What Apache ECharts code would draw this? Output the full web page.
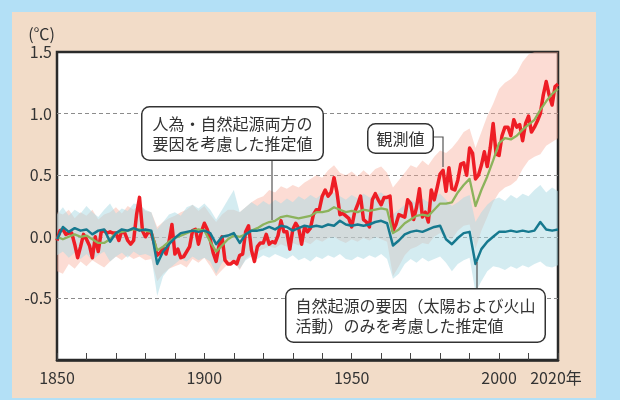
<!DOCTYPE html>
<html>
<head>
<meta charset="utf-8">
<script src="https://cdn.jsdelivr.net/npm/echarts@6/dist/echarts.min.js"></script>
<style>
html, body { margin: 0; padding: 0; background: #b3e0f6; }
#panel { position: absolute; left: 12px; top: 12px; width: 584px; height: 386px; background: #f2dcc8; }
#main { position: absolute; left: 0; top: 0; width: 620px; height: 400px; }
</style>
</head>
<body>
<div id="panel"></div>
<div id="main"></div>
<script>
// tick labels
var xLabelYears = [1850, 1900, 1950, 2000, 2020];

// observed annual anomaly (1850-2020)
var obsStart = 1850;
var obsTemp = [
    -0.03, 0.05, 0.06, 0.02, 0.03, 0.03, -0.06, -0.17, -0.08, 0.02,
    -0.02, -0.07, -0.17, 0.00, -0.12, 0.04, 0.05, 0.03, 0.04, 0.03,
    0.03, -0.03, 0.05, 0.03, -0.03, -0.06, -0.03, 0.18, 0.32, 0.05,
    0.00, 0.04, 0.03, -0.05, -0.15, -0.13, -0.09, -0.14, -0.04, 0.10,
    -0.14, -0.10, -0.17, -0.16, -0.12, -0.08, 0.05, 0.06, -0.06, 0.04,
    0.11, 0.06, -0.02, -0.13, -0.20, -0.07, 0.00, -0.19, -0.22, -0.22,
    -0.20, -0.22, -0.15, -0.14, 0.04, 0.09, -0.11, -0.20, -0.08, -0.05,
    -0.05, 0.02, -0.06, -0.04, -0.05, 0.01, 0.13, 0.04, 0.04, -0.10,
    0.06, 0.11, 0.07, -0.06, 0.08, 0.04, 0.07, 0.18, 0.22, 0.22,
    0.33, 0.38, 0.33, 0.36, 0.48, 0.36, 0.18, 0.19, 0.17, 0.15,
    0.08, 0.20, 0.26, 0.33, 0.14, 0.12, 0.08, 0.30, 0.35, 0.30,
    0.26, 0.32, 0.32, 0.33, 0.05, 0.10, 0.18, 0.17, 0.16, 0.30,
    0.27, 0.14, 0.24, 0.39, 0.16, 0.20, 0.12, 0.38, 0.30, 0.40,
    0.51, 0.54, 0.37, 0.56, 0.39, 0.38, 0.46, 0.59, 0.60, 0.50,
    0.72, 0.68, 0.47, 0.50, 0.58, 0.69, 0.57, 0.72, 0.92, 0.67,
    0.66, 0.82, 0.89, 0.89, 0.82, 0.95, 0.89, 0.91, 0.78, 0.92,
    0.98, 0.85, 0.89, 0.94, 1.00, 1.15, 1.26, 1.15, 1.07, 1.22,
    1.24
];

// model estimates, every 2 years 1850-2020
var modelYears = [];
for (var yr = 1850; yr <= 2020; yr += 2) modelYears.push(yr);

// human + natural forcing (mean)
var bothMean = [
    0.00, -0.02, 0.00, 0.02, 0.00, 0.01, -0.02, -0.05, -0.05, -0.02,
    0.03, 0.04, 0.05, 0.06, 0.06, 0.05, 0.04, -0.11, -0.08, -0.04,
    -0.01, 0.01, 0.03, 0.05, 0.06, 0.05, -0.04, -0.12, -0.07, -0.02,
    0.01, 0.00, 0.02, 0.05, 0.07, 0.10, 0.12, 0.13, 0.16, 0.17,
    0.16, 0.15, 0.16, 0.17, 0.20, 0.20, 0.21, 0.24, 0.22, 0.20,
    0.21, 0.20, 0.22, 0.21, 0.22, 0.23, 0.22, 0.03, 0.06, 0.11,
    0.14, 0.17, 0.18, 0.17, 0.22, 0.27, 0.27, 0.28, 0.36, 0.42,
    0.47, 0.25, 0.38, 0.49, 0.62, 0.76, 0.80, 0.79, 0.82, 0.87,
    0.91, 0.95, 1.03, 1.10, 1.16, 1.20
];
var bothLow = [
    -0.28, -0.30, -0.22, -0.26, -0.20, -0.24, -0.19, -0.22, -0.25, -0.20,
    -0.16, -0.19, -0.15, -0.18, -0.16, -0.19, -0.18, -0.36, -0.30, -0.26,
    -0.24, -0.22, -0.25, -0.18, -0.21, -0.17, -0.24, -0.32, -0.27, -0.22,
    -0.20, -0.27, -0.18, -0.14, -0.12, -0.10, -0.08, -0.09, -0.06, -0.08,
    -0.05, -0.07, -0.04, -0.06, -0.02, -0.04, -0.01, 0.00, -0.03, -0.05,
    -0.02, -0.04, -0.01, -0.03, 0.00, -0.02, -0.04, -0.32, -0.24, -0.15,
    -0.10, -0.08, -0.05, -0.06, 0.00, 0.03, 0.00, -0.02, 0.05, 0.09,
    0.10, -0.10, 0.05, 0.16, 0.28, 0.36, 0.40, 0.42, 0.46, 0.55,
    0.62, 0.65, 0.67, 0.74, 0.77, 0.80
];
var bothHigh = [
    0.20, 0.18, 0.22, 0.15, 0.20, 0.17, 0.22, 0.14, 0.18, 0.20,
    0.24, 0.19, 0.25, 0.22, 0.26, 0.21, 0.20, 0.08, 0.12, 0.15,
    0.17, 0.20, 0.22, 0.26, 0.21, 0.25, 0.18, 0.12, 0.18, 0.22,
    0.22, 0.20, 0.24, 0.28, 0.31, 0.33, 0.38, 0.36, 0.41, 0.39,
    0.42, 0.40, 0.44, 0.47, 0.50, 0.48, 0.54, 0.58, 0.52, 0.50,
    0.53, 0.49, 0.54, 0.50, 0.55, 0.57, 0.52, 0.40, 0.46, 0.52,
    0.58, 0.56, 0.62, 0.58, 0.65, 0.70, 0.68, 0.72, 0.78, 0.85,
    0.88, 0.72, 0.85, 0.98, 1.08, 1.20, 1.25, 1.28, 1.33, 1.42,
    1.48, 1.50, 1.55, 1.60, 1.62, 1.65
];

// natural forcing only (mean)
var natMean = [
    -0.02, 0.08, 0.04, 0.07, 0.05, 0.06, 0.02, 0.05, 0.06, -0.04,
    0.03, 0.06, 0.05, 0.07, 0.05, 0.06, 0.05, -0.22, -0.12, -0.06,
    -0.01, 0.03, 0.04, 0.05, 0.04, 0.05, 0.03, -0.06, 0.00, 0.01,
    0.03, -0.05, 0.02, 0.05, 0.05, 0.06, 0.08, 0.06, 0.09, 0.08,
    0.05, 0.07, 0.09, 0.08, 0.09, 0.08, 0.10, 0.09, 0.13, 0.10,
    0.09, 0.10, 0.09, 0.10, 0.12, 0.13, 0.11, -0.07, -0.03, 0.02,
    0.04, 0.05, 0.04, 0.06, 0.08, 0.09, -0.02, -0.06, -0.01, 0.03,
    0.04, -0.22, -0.10, -0.04, 0.00, 0.04, 0.04, 0.05, 0.04, 0.05,
    0.04, 0.05, 0.12, 0.06, 0.05, 0.06
];
var natLow = [
    -0.15, -0.12, -0.17, -0.13, -0.18, -0.14, -0.19, -0.15, -0.12, -0.20,
    -0.16, -0.13, -0.17, -0.12, -0.15, -0.14, -0.16, -0.48, -0.32, -0.26,
    -0.22, -0.18, -0.20, -0.16, -0.19, -0.17, -0.20, -0.30, -0.21, -0.18,
    -0.20, -0.26, -0.19, -0.16, -0.18, -0.15, -0.17, -0.14, -0.16, -0.18,
    -0.15, -0.19, -0.17, -0.20, -0.16, -0.18, -0.15, -0.17, -0.14, -0.18,
    -0.19, -0.16, -0.18, -0.15, -0.17, -0.14, -0.18, -0.34, -0.30, -0.22,
    -0.18, -0.21, -0.17, -0.20, -0.18, -0.16, -0.21, -0.28, -0.22, -0.19,
    -0.17, -0.45, -0.36, -0.28, -0.24, -0.25, -0.27, -0.24, -0.26, -0.23,
    -0.25, -0.22, -0.20, -0.24, -0.25, -0.23
];
var natHigh = [
    0.18, 0.24, 0.17, 0.22, 0.19, 0.25, 0.20, 0.16, 0.22, 0.27,
    0.19, 0.23, 0.21, 0.27, 0.26, 0.22, 0.20, 0.06, 0.12, 0.18,
    0.20, 0.17, 0.24, 0.26, 0.23, 0.27, 0.22, 0.14, 0.22, 0.30,
    0.38, 0.20, 0.24, 0.28, 0.25, 0.29, 0.26, 0.30, 0.27, 0.31,
    0.28, 0.33, 0.30, 0.34, 0.31, 0.35, 0.32, 0.36, 0.33, 0.30,
    0.34, 0.31, 0.35, 0.32, 0.34, 0.36, 0.32, 0.18, 0.22, 0.26,
    0.30, 0.27, 0.31, 0.28, 0.33, 0.35, 0.30, 0.25, 0.28, 0.32,
    0.34, 0.12, 0.20, 0.26, 0.30, 0.32, 0.29, 0.34, 0.31, 0.35,
    0.33, 0.38, 0.42, 0.36, 0.40, 0.37
];

var FONT = '"Noto Sans CJK JP", "Noto Sans", sans-serif';
var TEXT = '#333';

function pairs(xs, ys) {
    return ys.map(function (v, i) { return [xs[i], v]; });
}
var obsData = obsTemp.map(function (v, i) { return [obsStart + i, v]; });

// shaded range drawn as one polygon through the axis scales
function bandSeries(name, lo, hi, color, z) {
    return {
        name: name,
        type: 'custom',
        z: z,
        silent: true,
        data: modelYears.map(function (y, i) { return [y, lo[i], hi[i]]; }),
        encode: {x: 0, y: [1, 2]},
        renderItem: function (params, api) {
            if (params.dataIndex !== 0) return;
            var pts = [];
            for (var i = 0; i < modelYears.length; i++) pts.push(api.coord([modelYears[i], hi[i]]));
            for (var j = modelYears.length - 1; j >= 0; j--) pts.push(api.coord([modelYears[j], lo[j]]));
            var cs = params.coordSys;
            pts = echarts.graphic.clipPointsByRect(pts, {x: cs.x, y: cs.y, width: cs.width, height: cs.height});
            return {type: 'polygon', shape: {points: pts}, style: {fill: color}};
        }
    };
}

function lineSeries(name, data, color, width, z) {
    return {
        name: name,
        type: 'line',
        data: data,
        symbol: 'none',
        z: z,
        lineStyle: {color: color, width: width, join: 'round'},
        itemStyle: {color: color}
    };
}

var chart = echarts.init(document.getElementById('main'), null, {renderer: 'canvas'});
var option = {
    animation: false,
    textStyle: {fontFamily: FONT},
    grid: {
        left: 57, right: 62, top: 52, bottom: 40,
        show: true,
        backgroundColor: '#fff',
        borderColor: '#2a2a2a',
        borderWidth: 2.5
    },
    xAxis: {
        type: 'value',
        min: 1850,
        max: 2020,
        interval: 10,
        axisLine: {show: true, onZero: false, lineStyle: {color: '#2a2a2a', width: 2.5}},
        axisTick: {show: true, inside: true, length: 7, lineStyle: {color: '#444', width: 1}},
        splitLine: {show: false},
        axisLabel: {
            showMinLabel: true,
            showMaxLabel: true,
            margin: 10,
            fontSize: 16,
            color: TEXT,
            fontFamily: FONT,
            formatter: function (v) {
                if (v === 2020) return '{a|2020年}';
                return xLabelYears.indexOf(v) >= 0 ? String(v) : '';
            },
            rich: {a: {fontSize: 16, color: TEXT, fontFamily: FONT, padding: [0, 4, 0, 0]}}
        }
    },
    yAxis: {
        type: 'value',
        min: -1,
        max: 1.5,
        interval: 0.5,
        name: '(℃)',
        nameLocation: 'end',
        nameGap: 10,
        nameTextStyle: {color: TEXT, fontSize: 16, fontFamily: FONT, align: 'right', padding: [0, 2, 0, 0]},
        axisLine: {show: false},
        axisTick: {show: false},
        axisLabel: {
            margin: 5,
            fontSize: 16,
            color: TEXT,
            fontFamily: FONT,
            formatter: function (v) { return v <= -1 ? '' : v.toFixed(1); }
        },
        splitLine: {
            show: true,
            lineStyle: {
                type: [4, 3],
                width: 1,
                color: ['rgba(0,0,0,0)', '#8c8c8c', '#8c8c8c', '#8c8c8c', '#8c8c8c', 'rgba(0,0,0,0)']
            }
        }
    },
    series: [
        bandSeries('人為・自然起源 範囲', bothLow, bothHigh, 'rgba(248,168,148,0.4)', 1),
        bandSeries('自然起源 範囲', natLow, natHigh, 'rgba(169,217,227,0.5)', 1),
        lineSeries('観測値', obsData, '#ee1d25', 3.5, 3),
        lineSeries('人為・自然起源', pairs(modelYears, bothMean), '#8cb35c', 2.3, 4),
        lineSeries('自然起源', pairs(modelYears, natMean), '#16798f', 2.5, 5)
    ],
    graphic: [
        {type: 'line', z: 50, shape: {x1: 272, y1: 158, x2: 272, y2: 220}, style: {stroke: '#555', lineWidth: 1.2}},
        {type: 'polyline', z: 50, shape: {points: [[432, 137], [443, 137], [443, 167]]}, style: {stroke: '#555', lineWidth: 1.2, fill: null}},
        {type: 'line', z: 50, shape: {x1: 477, y1: 262, x2: 477, y2: 288}, style: {stroke: '#555', lineWidth: 1.2}},
        {
            type: 'text', z: 60, left: 141, top: 106,
            style: {
                text: '人為・自然起源両方の\n要因を考慮した推定値',
                font: '16px ' + FONT, fill: TEXT, lineHeight: 20,
                backgroundColor: '#fff', borderColor: '#333', borderWidth: 1.5, borderRadius: 7, padding: [6, 10]
            }
        },
        {
            type: 'text', z: 60, left: 367, top: 123,
            style: {
                text: '観測値',
                font: '16px ' + FONT, fill: TEXT, lineHeight: 20,
                backgroundColor: '#fff', borderColor: '#333', borderWidth: 1.5, borderRadius: 7, padding: [4, 8]
            }
        },
        {
            type: 'text', z: 60, left: 285, top: 288,
            style: {
                text: '自然起源の要因（太陽および火山\n活動）のみを考慮した推定値',
                font: '16px ' + FONT, fill: TEXT, lineHeight: 20,
                backgroundColor: '#fff', borderColor: '#333', borderWidth: 1.5, borderRadius: 7, padding: [6, 9]
            }
        }
    ]
};
chart.setOption(option);
</script>
</body>
</html>
